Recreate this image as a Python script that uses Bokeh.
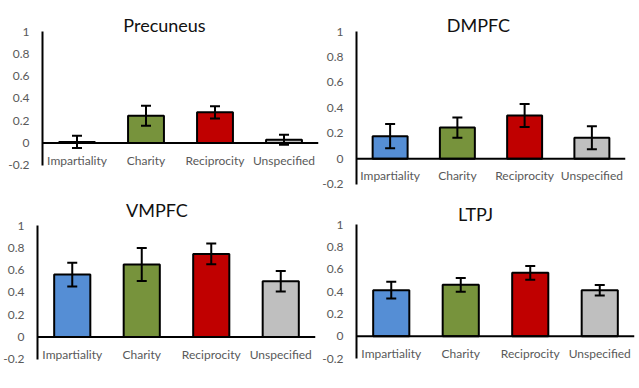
from bokeh.plotting import figure
from bokeh.models import (ColumnDataSource, FactorRange, Range1d, FixedTicker,
                          CustomJSTickFormatter, Span, Whisker, TeeHead)
from bokeh.layouts import row, column
from bokeh.core.properties import value
from bokeh.embed import file_html
from bokeh.resources import INLINE

# ---- data ----
categories = ["Impartiality", "Charity", "Reciprocity", "Unspecified"]
colors = ["#558ED5", "#77933C", "#C00000", "#BFBFBF"]
y_ticks = [-0.2, 0, 0.2, 0.4, 0.6, 0.8, 1.0]

precuneus_mean = [0.01, 0.245, 0.275, 0.03]
precuneus_err = [0.055, 0.09, 0.055, 0.045]
dmpfc_mean = [0.178, 0.245, 0.34, 0.165]
dmpfc_err = [0.095, 0.08, 0.09, 0.09]
vmpfc_mean = [0.56, 0.65, 0.745, 0.50]
vmpfc_err = [0.107, 0.148, 0.093, 0.093]
ltpj_mean = [0.412, 0.46, 0.567, 0.412]
ltpj_err = [0.075, 0.062, 0.062, 0.047]

FONT = "Lato"
LABEL_COLOR = "#595959"


def panel(title, means, errs, fig_w, fig_h, frame_left, frame_right, y1, s,
          frame_h, title_dx, title_dy):
    top = 1 + y1 / s
    bottom = 1 - (frame_h - y1) / s
    p = figure(width=fig_w, height=fig_h,
               x_range=FactorRange(*categories),
               y_range=Range1d(bottom, top),
               output_backend="svg", toolbar_location=None,
               min_border_left=frame_left,
               min_border_right=fig_w - frame_right,
               min_border_top=0, min_border_bottom=fig_h - frame_h,
               x_axis_location=None, frame_align=False)
    p.outline_line_color = None
    p.xgrid.visible = False
    p.ygrid.visible = False
    p.background_fill_color = "white"
    p.border_fill_color = "white"

    ax = p.yaxis[0]
    ax.bounds = (-0.2, 1)
    ax.ticker = FixedTicker(ticks=y_ticks)
    ax.formatter = CustomJSTickFormatter(code="return String(Math.round(tick*10)/10);")
    ax.major_tick_line_color = None
    ax.minor_tick_line_color = None
    ax.major_tick_out = 0
    ax.major_tick_in = 0
    ax.axis_line_color = "black"
    ax.axis_line_width = 2
    ax.major_label_standoff = 13
    ax.major_label_text_font = FONT
    ax.major_label_text_font_size = "12px"
    ax.major_label_text_color = LABEL_COLOR

    src = ColumnDataSource(dict(
        cat=categories,
        mean=means,
        upper=[m + e for m, e in zip(means, errs)],
        lower=[m - e for m, e in zip(means, errs)],
        color=colors,
    ))
    p.vbar(x="cat", top="mean", bottom=0, width=0.52, fill_color="color",
           line_color="black", line_width=2, source=src)
    p.add_layout(Span(location=0, dimension="width", line_color="black",
                      line_width=2))
    p.add_layout(Whisker(source=src, base="cat", upper="upper", lower="lower",
                         line_color="black", line_width=2, level="overlay",
                         upper_head=TeeHead(size=10, line_width=2, line_color="black"),
                         lower_head=TeeHead(size=10, line_width=2, line_color="black")))
    p.text(x="cat", y=0, text="cat", source=src, y_offset=17,
           text_align="center", text_baseline="middle",
           text_font=value(FONT), text_font_size="12px", text_color=LABEL_COLOR)
    p.text(x=[0], y=[1], text=[title], x_offset=title_dx, y_offset=title_dy,
           text_align="center", text_baseline="middle",
           text_font=value(FONT), text_font_size="18px", text_color="#111111")
    return p


p1 = panel("Precuneus", precuneus_mean, precuneus_err, 319, 194, 42, 318, 31, 111.5, 190, 122, -7)
p2 = panel("DMPFC", dmpfc_mean, dmpfc_err, 317, 194, 37, 306, 31, 127.3, 190, 122, -7)
p3 = panel("VMPFC", vmpfc_mean, vmpfc_err, 319, 182, 36, 315, 31, 111.5, 178, 119.5, -15.5)
p4 = panel("LTPJ", ltpj_mean, ltpj_err, 317, 182, 37, 315, 30, 111.7, 178, 119, -10.5)

layout = column(row(p1, p2), row(p3, p4))

open("out.html", "w").write(file_html(layout, INLINE))
